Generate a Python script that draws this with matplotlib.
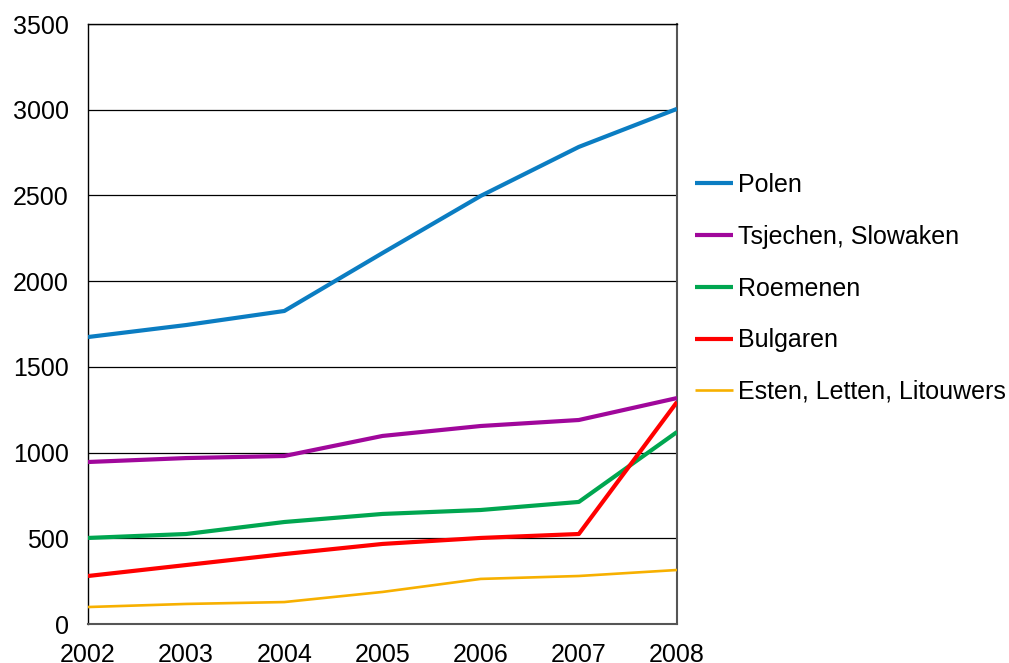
import matplotlib.pyplot as plt

plt.rcParams['font.family'] = ['Liberation Sans', 'DejaVu Sans']

years = [2002, 2003, 2004, 2005, 2006, 2007, 2008]

polen = [1674, 1744, 1826, 2164, 2497, 2783, 3005]
tsjechen = [945, 968, 980, 1097, 1155, 1190, 1318]
roemenen = [502, 525, 595, 642, 665, 712, 1120]
bulgaren = [280, 344, 408, 467, 502, 525, 1295]
esten = [99, 117, 128, 187, 263, 280, 315]

labels = ['Polen', 'Tsjechen, Slowaken', 'Roemenen', 'Bulgaren', 'Esten, Letten, Litouwers']
colors = ['#0B7DC2', '#A0079B', '#00A650', '#FF0000', '#F7B000']
widths = [3.0, 3.0, 3.0, 3.0, 1.9]

fig = plt.figure(figsize=(10.09, 6.63), dpi=100)
ax = fig.add_axes([88 / 1009, 39 / 663, 589 / 1009, 600 / 663])

series = [polen, tsjechen, roemenen, bulgaren, esten]
for vals, lab, col, lw in zip(series, labels, colors, widths):
    ax.plot(years, vals, color=col, lw=lw, label=lab, solid_capstyle='butt', zorder=3)

ax.set_xlim(2002, 2008)
ax.set_ylim(0, 3500)
ax.set_yticks(range(0, 3501, 500))
ax.set_xticks(years)
ax.yaxis.grid(True, color='black', lw=0.9)
ax.set_axisbelow(True)
ax.tick_params(axis='both', length=0, labelsize=18)
ax.tick_params(axis='x', pad=13.5)
ax.tick_params(axis='y', pad=14)
for s in ['left', 'top']:
    ax.spines[s].set_color('black')
    ax.spines[s].set_linewidth(1.0)
for s in ['right', 'bottom']:
    ax.spines[s].set_color('#555555')
    ax.spines[s].set_linewidth(1.5)

fig.legend(loc='upper left', bbox_to_anchor=(695 / 1009, 1 - 173 / 663),
           frameon=False, fontsize=18, handlelength=1.52, handletextpad=0.2,
           labelspacing=1.11, borderpad=0, borderaxespad=0)

fig.savefig('out.png', dpi=100)
